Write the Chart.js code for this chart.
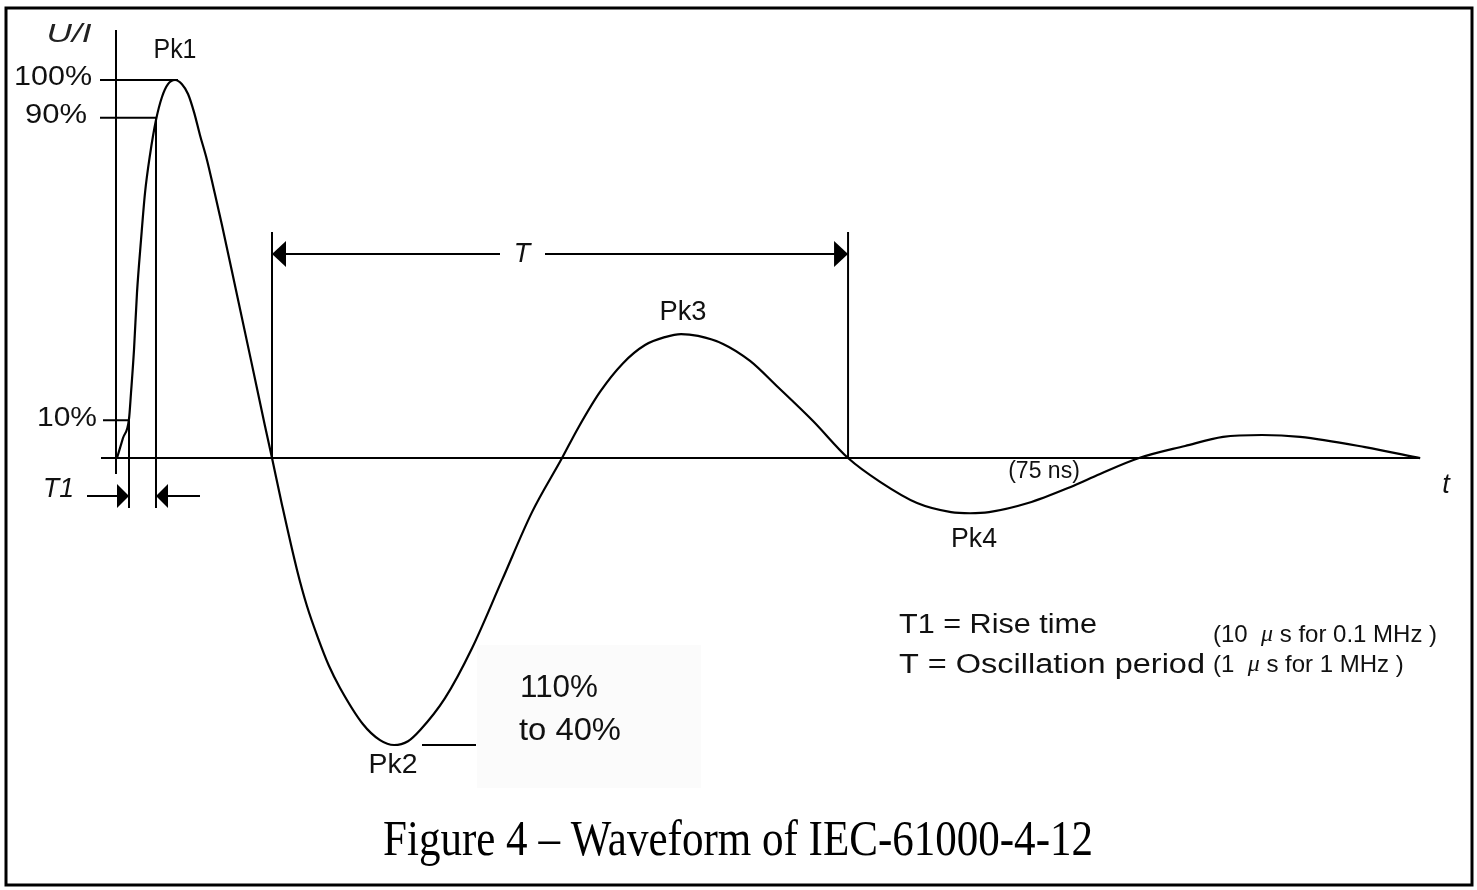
<!DOCTYPE html>
<html>
<head>
<meta charset="utf-8">
<title>Waveform of IEC-61000-4-12</title>
<script src="https://cdn.jsdelivr.net/npm/chart.js@4/dist/chart.umd.min.js"></script>
<style>
  html, body { margin: 0; padding: 0; background: #fff; }
  #wrap { width: 1477px; height: 890px; position: relative; }
</style>
</head>
<body>
<div id="wrap"><canvas id="waveChart" width="1477" height="890"></canvas></div>
<script>
// ring wave, time in µs (1 MHz -> T = 1 µs), amplitude in % of Pk1
const timeUs = [0, 0.0104, 0.0208, 0.0243, 0.0295, 0.0347, 0.0417, 0.0486, 0.0573, 0.0677,
  0.0781, 0.0885, 0.1007, 0.1128, 0.1233, 0.1337, 0.1441, 0.1563, 0.1684, 0.1823,
  0.2066, 0.2326, 0.2569, 0.2691,
  0.2865, 0.3125, 0.3299, 0.3490, 0.3681, 0.3872, 0.4271, 0.4566, 0.4809, 0.5052, 0.5260, 0.5694,
  0.6163, 0.6684, 0.7205, 0.7726,
  0.8003, 0.8385, 0.8785, 0.9167, 0.9514, 0.9792, 1.0087, 1.0521, 1.0990, 1.1458,
  1.2083, 1.2691,
  1.3247, 1.3889, 1.4479, 1.4809, 1.5139, 1.5816, 1.6545, 1.7066, 1.7743,
  1.8542, 1.9201, 1.9878, 2.0538, 2.1667, 2.2622];
const amplitude = [0, 5.3, 10.3, 17.2, 28.6, 43.7, 57.7, 70.1, 80.2, 89.4,
  95.5, 98.9, 100, 98.9, 96.3, 91.5, 85.4, 78.8, 70.9, 61.6,
  44.4, 25.9, 8.5, 0,
  -12.4, -29.6, -39.2, -47.6, -55.0, -60.8, -70.4, -74.6, -75.9, -74.9, -72.0, -63.5,
  -50.3, -32.3, -14.3, 0,
  7.9, 17.5, 25.1, 29.9, 32.0, 32.8, 32.3, 30.2, 25.7, 19.0,
  9.8, 0,
  -6.3, -11.9, -14.3, -14.6, -14.3, -11.9, -7.7, -4.2, 0,
  3.2, 5.6, 6.1, 5.6, 2.9, 0];

const levelValues = [100, 90, 10];
const levelLabels = ["100%", "90%", "10%"];
const peakLabels = ["Pk1", "Pk2", "Pk3", "Pk4"];
const riseStart = 0.0208;  // 10 % point
const riseEnd = 0.0677;    // 90 % point
const periodStart = 0.2691; // zero crossing after Pk1
const periodEnd = 1.2691;   // zero crossing after Pk3
const pk2Level = -75.9;

const SANS = "Arial, 'Liberation Sans', sans-serif";
const SERIF = "'Times New Roman', 'Liberation Serif', serif";

function put(ctx, str, x, y, o) {
  ctx.save();
  ctx.font = (o.italic ? "italic " : "") + o.size + "px " + (o.family || SANS);
  ctx.textBaseline = "middle";
  ctx.textAlign = "left";
  const w = ctx.measureText(str).width;
  const sx = o.width ? o.width / w : 1;
  const dw = w * sx;
  let left = x;
  if (o.align === "center") left = x - dw / 2;
  else if (o.align === "right") left = x - dw;
  ctx.translate(left, y);
  ctx.scale(sx, o.sy || 1);
  ctx.fillStyle = o.color || "#111";
  ctx.fillText(str, 0, 0);
  ctx.restore();
}

// text made of pieces, some italic (the µ sign)
function putRun(ctx, parts, x, y, size) {
  ctx.save();
  ctx.textBaseline = "middle";
  ctx.textAlign = "left";
  ctx.fillStyle = "#111";
  let cx = x;
  parts.forEach(p => {
    ctx.font = (p[1] ? "italic " : "") + size + "px " + (p[1] ? SERIF : SANS);
    ctx.fillText(p[0], cx, y);
    cx += ctx.measureText(p[0]).width;
  });
  ctx.restore();
}

function seg(ctx, x1, y1, x2, y2) {
  ctx.beginPath();
  ctx.moveTo(x1, y1);
  ctx.lineTo(x2, y2);
  ctx.stroke();
}

// tip at (x, y); dir +1 points right, -1 points left
function head(ctx, x, y, dir, len, half) {
  ctx.beginPath();
  ctx.moveTo(x, y);
  ctx.lineTo(x - dir * len, y - half);
  ctx.lineTo(x - dir * len, y + half);
  ctx.closePath();
  ctx.fill();
}

const figureMarks = {
  id: "figureMarks",
  beforeDraw(chart) {
    const ctx = chart.ctx;
    ctx.save();
    ctx.fillStyle = "#fff";
    ctx.fillRect(0, 0, chart.width, chart.height);
    ctx.fillStyle = "#fbfbfb";
    ctx.fillRect(477, 645, 224, 143);
    ctx.restore();
  },
  beforeDatasetsDraw(chart) {
    const ctx = chart.ctx;
    const X = v => chart.scales.x.getPixelForValue(v);
    const Y = v => chart.scales.y.getPixelForValue(v);
    ctx.save();
    ctx.strokeStyle = "#000";
    ctx.fillStyle = "#000";
    ctx.lineWidth = 2;

    // axes
    seg(ctx, X(0) - 1, 30, X(0) - 1, 474);
    seg(ctx, 101, Y(0), X(timeUs[timeUs.length - 1]), Y(0));

    // level lines
    seg(ctx, 100, Y(100), X(0.106), Y(100));
    seg(ctx, 100, Y(90), X(riseEnd), Y(90));
    seg(ctx, 103, Y(10), X(riseStart), Y(10));

    // T1 marker
    const yT1 = 496;
    seg(ctx, X(riseStart), Y(10), X(riseStart), 508);
    seg(ctx, X(riseEnd), Y(90), X(riseEnd), 508);
    seg(ctx, 87, yT1, X(riseStart), yT1);
    head(ctx, X(riseStart), yT1, 1, 12, 12);
    seg(ctx, X(riseEnd), yT1, 200, yT1);
    head(ctx, X(riseEnd), yT1, -1, 12, 12);

    // T marker
    const yT = 254;
    seg(ctx, X(periodStart), 232, X(periodStart), Y(0));
    seg(ctx, X(periodEnd), 232, X(periodEnd), Y(0));
    seg(ctx, X(periodStart), yT, 500, yT);
    seg(ctx, 545, yT, X(periodEnd), yT);
    head(ctx, X(periodStart), yT, -1, 14, 13);
    head(ctx, X(periodEnd), yT, 1, 14, 13);

    // Pk2 tolerance tick
    seg(ctx, 422, Y(pk2Level), 476, Y(pk2Level));

    // frame
    ctx.lineWidth = 3;
    ctx.strokeRect(6, 8, 1466, 877);
    ctx.restore();
  },
  afterDraw(chart) {
    const ctx = chart.ctx;
    const Y = v => chart.scales.y.getPixelForValue(v);

    put(ctx, "U/I", 69, 35, { size: 25, italic: true, align: "center", width: 45, color: "#222" });
    const tickRight = [92, 87, 97];
    const tickWidth = [78, 62, 60];
    levelValues.forEach((v, i) => {
      put(ctx, levelLabels[i], tickRight[i], Y(v) - 2, { size: 27, align: "right", width: tickWidth[i] });
    });

    put(ctx, peakLabels[0], 175, 51, { size: 27, align: "center", width: 43 });
    put(ctx, peakLabels[1], 393, 766, { size: 27, align: "center", width: 49 });
    put(ctx, peakLabels[2], 683, 313, { size: 27, align: "center", width: 47 });
    put(ctx, peakLabels[3], 974, 540, { size: 27, align: "center", width: 46 });

    put(ctx, "T1", 43, 489, { size: 27, italic: true, width: 31 });
    put(ctx, "T", 522, 254, { size: 27, italic: true, align: "center" });
    put(ctx, "t", 1446, 485, { size: 27, italic: true, align: "center" });
    put(ctx, "(75 ns)", 1044, 472, { size: 23, align: "center" });

    put(ctx, "110%", 520, 688, { size: 31, width: 78 });
    put(ctx, "to 40%", 519, 731, { size: 31, width: 102 });

    put(ctx, "T1 = Rise time", 899, 626, { size: 27, width: 198 });
    put(ctx, "T = Oscillation period", 899, 666, { size: 27, width: 306 });
    putRun(ctx, [["(10  ", false], ["\u03bc", true], [" s for 0.1 MHz )", false]], 1213, 635, 24);
    putRun(ctx, [["(1  ", false], ["\u03bc", true], [" s for 1 MHz )", false]], 1213, 665, 24);

    put(ctx, "Figure 4 \u2013 Waveform of IEC-61000-4-12", 738, 842,
      { family: SERIF, size: 40, align: "center", width: 710, sy: 1.25, color: "#000" });
  }
};

const ctx = document.getElementById("waveChart").getContext("2d");
const waveChart = new Chart(ctx, {
  type: "scatter",
  data: {
    datasets: [{
      label: "U/I",
      data: timeUs.map((t, i) => ({ x: t, y: amplitude[i] })),
      showLine: true,
      borderColor: "#000",
      borderWidth: 2.2,
      pointRadius: 0,
      cubicInterpolationMode: "monotone",
      clip: false
    }]
  },
  options: {
    responsive: false,
    animation: false,
    layout: { padding: { left: 117, right: 57, top: 80, bottom: 145 } },
    plugins: { legend: { display: false }, tooltip: { enabled: false } },
    scales: {
      x: { type: "linear", display: false, min: 0, max: 2.262 },
      y: { type: "linear", display: false, min: -75.9, max: 100 }
    }
  },
  plugins: [figureMarks]
});
</script>
</body>
</html>
